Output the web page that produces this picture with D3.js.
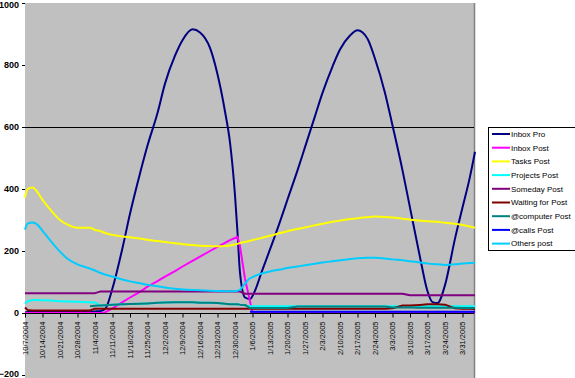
<!DOCTYPE html>
<html>
<head>
<meta charset="utf-8">
<script src="https://cdn.jsdelivr.net/npm/d3@7"></script>
<style>
  body { margin: 0; background: #fff; }
  svg { display: block; font-family: "Liberation Sans", Arial, sans-serif; }
</style>
</head>
<body>
<div class="box"></div>
<script>
// data
const dates = ["10/7/2004","10/8/2004","10/10/2004","10/12/2004","10/14/2004","10/17/2004","10/21/2004","10/24/2004","10/28/2004","11/1/2004",
  "11/2/2004","11/4/2004","11/6/2004","11/8/2004","11/11/2004","11/15/2004","11/18/2004","11/22/2004","11/25/2004","11/29/2004",
  "12/2/2004","12/6/2004","12/9/2004","12/13/2004","12/16/2004","12/20/2004","12/23/2004","12/26/2004","12/28/2004","12/30/2004",
  "12/31/2004","1/1/2005","1/3/2005","1/5/2005","1/6/2005","1/10/2005","1/13/2005","1/17/2005","1/20/2005","1/24/2005",
  "1/27/2005","1/31/2005","2/3/2005","2/7/2005","2/10/2005","2/14/2005","2/17/2005","2/21/2005","2/24/2005","2/28/2005",
  "3/3/2005","3/7/2005","3/10/2005","3/14/2005","3/17/2005","3/19/2005","3/21/2005","3/24/2005","3/28/2005","3/31/2005",
  "4/3/2005","4/5/2005"];

const inboxPro = [2,3,3,3,3,3,3,3,3,4, 4,5,6,12,80,210,320,450,540,645,
  740,830,880,915,905,855,770,650,550,380, 260,130,50,45,55,140,205,295,366,460,
  535,635,710,795,850,895,912,885,820,710, 605,460,340,180,70,35,32,90,240,340, 440,520];
const inboxPost = [0,0,0,0,0,0,0,0,0,0, 0,0,0,2,15,35,50,68,85,103,
  117,135,150,168,182,200,213,226,235,242, 246,215,110,38,0,0,0,0,0,0,
  0,0,0,0,0,0,0,0,0,0, 0,0,0,0,0,0,0,0,0,0, 0,0];
const tasksPost = [372,400,405,390,365,335,300,285,275,275, 275,268,265,258,252,247,244,240,236,232,
  229,225,222,219,217,216,215,216,218,221, 223,226,229,233,235,243,249,258,264,271,
  276,283,288,294,298,303,306,309,311,310, 308,304,301,298,296,295,294,291,288,284, 279,275];
const projectsPost = [30,38,42,42,41,40,38,37,36,35, 35,34,24,25,27,28,29,30,31,33,
  34,35,35,35,33,33,32,30,28,28, 28,27,24,22,22,22,22,22,22,22,
  22,22,22,22,22,22,22,22,22,22, 22,22,22,22,22,22,22,22,22,22, 22,22];
const somedayPost = [64,64,64,64,64,64,64,64,64,64, 64,64,69,69,69,69,69,69,69,69,
  69,69,69,69,69,69,69,69,69,69, 69,69,62,62,62,62,62,62,62,62,
  62,62,62,62,62,62,62,62,62,62, 62,62,57,57,57,57,57,57,57,57, 57,57];
const waitingPost = [18,10,8,8,8,8,8,8,8,8, 8,14,14,14,14,14,14,14,14,14,
  14,14,14,14,14,14,14,14,14,14, 14,14,14,14,14,14,14,14,14,14,
  14,14,14,14,14,14,14,14,14,14, 15,24,24,26,28,28,28,27,15,14, 14,13];
const computerPost = [null,null,null,null,null,null,null,null,null,null, 22,23,24,25,27,28,29,30,31,33,
  34,35,35,35,33,33,32,30,28,28, 28,27,26,16,16,16,16,16,16,21,
  21,21,21,21,21,21,21,21,21,21, 18,18,18,17,17,17,17,17,17,16, 16,16];
const callsPost = [null,null,null,null,null,null,null,null,null,null, null,null,null,null,null,null,null,null,null,null,
  null,null,null,null,null,null,null,null,null,null, null,null,null,4,4,4,4,4,4,4,
  4,4,4,4,4,4,4,4,4,4, 4,4,4,4,4,4,4,4,4,4, 4,4];
const othersPost = [269,288,292,285,265,235,198,175,157,146, 143,137,130,124,118,108,102,96,91,86,
  82,78,76,74,73,72,71,70,70,71, 72,75,95,112,116,128,134,140,145,150,
  154,159,163,167,170,174,177,178,178,176, 173,170,167,163,160,158,157,155,157,160, 161,162];

const seriesNames = ["Inbox Pro","Inbox Post","Tasks Post","Projects Post","Someday Post",
  "Waiting for Post","@computer Post","@calls Post","Others post"];
const seriesValues = [inboxPro, inboxPost, tasksPost, projectsPost, somedayPost,
  waitingPost, computerPost, callsPost, othersPost];
const colors = ["#000080","#FF00FF","#FFFF00","#00FFFF","#800080","#800000","#008080","#0000FF","#00CCFF"];
const smooth = [true, false, true, false, false, false, false, false, true];

const xTickLabels = ["10/7/2004","10/14/2004","10/21/2004","10/28/2004","11/4/2004","11/11/2004","11/18/2004",
  "11/25/2004","12/2/2004","12/9/2004","12/16/2004","12/23/2004","12/30/2004","1/6/2005","1/13/2005",
  "1/20/2005","1/27/2005","2/3/2005","2/10/2005","2/17/2005","2/24/2005","3/3/2005","3/10/2005",
  "3/17/2005","3/24/2005","3/31/2005"];
const yTicks = [-200, 0, 200, 400, 600, 800, 1000];

const parse = d3.timeParse("%m/%d/%Y");

const svg = d3.select('.box')
              .append('svg')
              .attr('width', 575)
              .attr('height', 378);

// plot area
const plot = {left: 25, right: 475, top: 3, bottom: 378};

const x = d3.scaleTime()
            .domain([parse("10/7/2004"), parse("4/5/2005")])
            .range([plot.left, plot.right]);
const y = d3.scaleLinear()
            .domain([-200, 1000])
            .range([375, 3]);

svg.append('rect')
   .attr('x', plot.left)
   .attr('y', plot.top)
   .attr('width', plot.right - plot.left)
   .attr('height', plot.bottom - plot.top)
   .attr('fill', '#C0C0C0');
svg.append('line')
   .attr('x1', plot.right - 0.5).attr('x2', plot.right - 0.5)
   .attr('y1', plot.top).attr('y2', plot.bottom)
   .attr('stroke', '#808080').attr('stroke-width', 1.5);

// the one black gridline at 600
svg.append('line')
   .attr('x1', plot.left).attr('x2', plot.right - 1)
   .attr('y1', Math.round(y(600)) + 0.5).attr('y2', Math.round(y(600)) + 0.5)
   .attr('stroke', '#000');

// y axis
const groupeY = svg.append('g')
                   .attr('transform', `translate(${plot.left}, 0)`);
groupeY.call(d3.axisLeft(y).tickValues(yTicks).tickSize(3).tickPadding(3).tickFormat(d3.format('d')));
groupeY.select('.domain').remove();
groupeY.selectAll('text')
       .attr('font-size', 9)
       .attr('font-weight', 'bold')
       .attr('font-family', '"Liberation Sans", Arial, sans-serif')
       .attr('fill', '#000')
       .attr('dy', d => d === 1000 ? '0.55em' : d === -200 ? '0.15em' : '0.32em');

// lines
seriesValues.forEach((vals, i) => {
  const line = d3.line()
                 .defined(d => d.v !== null)
                 .curve(smooth[i] ? d3.curveMonotoneX : d3.curveLinear)
                 .x(d => x(d.date))
                 .y(d => y(d.v));
  const pts = vals.map((v, j) => ({date: parse(dates[j]), v: v}));
  svg.append('path')
     .attr('d', line(pts))
     .attr('fill', 'none')
     .attr('stroke', colors[i])
     .attr('stroke-width', 2)
     .attr('stroke-linejoin', 'round');
});

// x axis at zero
const groupeX = svg.append('g')
                   .attr('transform', `translate(0, ${Math.round(y(0)) + 0.5})`);
groupeX.call(d3.axisBottom(x)
               .tickValues(xTickLabels.map(parse))
               .tickSize(4)
               .tickFormat((d, i) => xTickLabels[i]));
groupeX.select('.domain')
       .attr('d', `M${plot.left},0H${plot.right - 1}`)
       .attr('stroke', '#000');
groupeX.selectAll('text')
       .attr('font-size', 7.5)
       .attr('font-family', '"Liberation Sans", Arial, sans-serif')
       .attr('fill', '#000')
       .attr('transform', 'rotate(-90)')
       .attr('text-anchor', 'end')
       .attr('x', -8)
       .attr('y', 0)
       .attr('dy', '0.32em');

// legend
const legend = svg.append('g');
legend.append('rect')
      .attr('x', 488.5).attr('y', 127.5)
      .attr('width', 100).attr('height', 123)
      .attr('fill', '#fff').attr('stroke', '#000');

seriesNames.forEach((name, i) => {
  const ly = 134 + i * 13.7;
  legend.append('line')
        .attr('x1', 492).attr('x2', 510)
        .attr('y1', ly).attr('y2', ly)
        .attr('stroke', colors[i]).attr('stroke-width', 2);
  legend.append('text')
        .attr('x', 511).attr('y', ly)
        .attr('dy', '0.35em')
        .attr('font-size', 8)
        .attr('fill', '#000')
        .text(name);
});
</script>
</body>
</html>
